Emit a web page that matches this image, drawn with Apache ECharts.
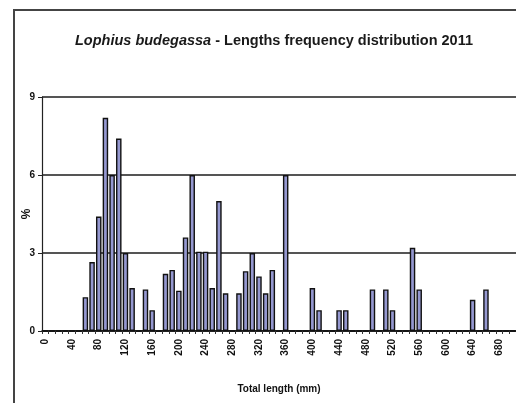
<!DOCTYPE html>
<html>
<head>
<meta charset="utf-8">
<script src="https://cdn.jsdelivr.net/npm/echarts@6/dist/echarts.min.js"></script>
<style>
  html, body { margin: 0; padding: 0; background: #fff; }
  #chart { width: 516px; height: 403px; }
</style>
</head>
<body>
<div id="chart"></div>
<script>
// length classes (mm), one bar per 10 mm
const lengths = [
  0, 10, 20, 30, 40, 50, 60, 70, 80, 90,
  100, 110, 120, 130, 140, 150, 160, 170, 180, 190,
  200, 210, 220, 230, 240, 250, 260, 270, 280, 290,
  300, 310, 320, 330, 340, 350, 360, 370, 380, 390,
  400, 410, 420, 430, 440, 450, 460, 470, 480, 490,
  500, 510, 520, 530, 540, 550, 560, 570, 580, 590,
  600, 610, 620, 630, 640, 650, 660, 670, 680, 690, 700
]
// frequency (%)
const percent = [
  0, 0, 0, 0, 0, 0, 1.3, 2.65, 4.4, 8.2,
  6.0, 7.4, 3.0, 1.65, 0, 1.6, 0.8, 0, 2.2, 2.35,
  1.55, 3.6, 6.0, 3.05, 3.05, 1.65, 5.0, 1.45, 0, 1.45,
  2.3, 3.0, 2.1, 1.45, 2.35, 0, 6.0, 0, 0, 0,
  1.65, 0.8, 0, 0, 0.8, 0.8, 0, 0, 0, 1.6,
  0, 1.6, 0.8, 0, 0, 3.2, 1.6, 0, 0, 0,
  0, 0, 0, 0, 1.2, 0, 1.6, 0, 0, 0, 0
]
const yTicks = { min: 0, max: 9, step: 3 }

const font = 'Liberation Sans'
const myChart = echarts.init(document.getElementById('chart'))

myChart.setOption({
    backgroundColor: '#fff',
    animation: false,
    title: {
        left: 70,
        top: 28,
        text: '{it|Lophius budegassa}{n| - Lengths frequency distribution 2011}',
        textStyle: {
            rich: {
                it: { fontFamily: font, fontSize: 14.5, fontStyle: 'italic', fontWeight: 'bold', color: '#1a1a1a' },
                n: { fontFamily: font, fontSize: 14.5, fontWeight: 'bold', color: '#1a1a1a' }
            }
        }
    },
    graphic: [{
        type: 'rect',
        shape: { x: 14, y: 10, width: 700, height: 600 },
        style: { fill: 'none', stroke: '#444', lineWidth: 2 },
        silent: true
    }],
    grid: { left: 42, top: 97, width: 479, height: 234 },
    xAxis: {
        type: 'category',
        data: lengths,
        name: 'Total length (mm)',
        nameLocation: 'middle',
        nameGap: 53,
        nameTextStyle: { fontFamily: font, fontSize: 10, fontWeight: 'bold', color: '#111' },
        axisLine: { lineStyle: { color: '#111', width: 1.5 } },
        axisTick: { show: true, interval: 0, length: 3, lineStyle: { color: '#333' } },
        axisLabel: {
            interval: 3,
            rotate: 90,
            margin: 8,
            fontFamily: font,
            fontSize: 10,
            fontWeight: 'bold',
            color: '#111'
        },
        splitLine: { show: false }
    },
    yAxis: {
        type: 'value',
        min: yTicks.min,
        max: yTicks.max,
        interval: yTicks.step,
        name: '%',
        nameLocation: 'middle',
        nameGap: 9,
        nameRotate: 90,
        nameMoveOverlap: false,
        nameTextStyle: { fontFamily: font, fontSize: 12, fontWeight: 'bold', color: '#111' },
        axisLine: { show: true, lineStyle: { color: '#222', width: 1.2 } },
        axisTick: { show: true, length: 4, lineStyle: { color: '#222' } },
        axisLabel: { fontFamily: font, fontSize: 10, fontWeight: 'bold', color: '#111', margin: 7 },
        splitLine: { show: true, lineStyle: { color: '#555', width: 2 } }
    },
    series: [{
        type: 'bar',
        data: percent,
        barWidth: 5.5,
        itemStyle: { color: '#9598d0', borderColor: '#111', borderWidth: 1.4 }
    }]
})
</script>
</body>
</html>
